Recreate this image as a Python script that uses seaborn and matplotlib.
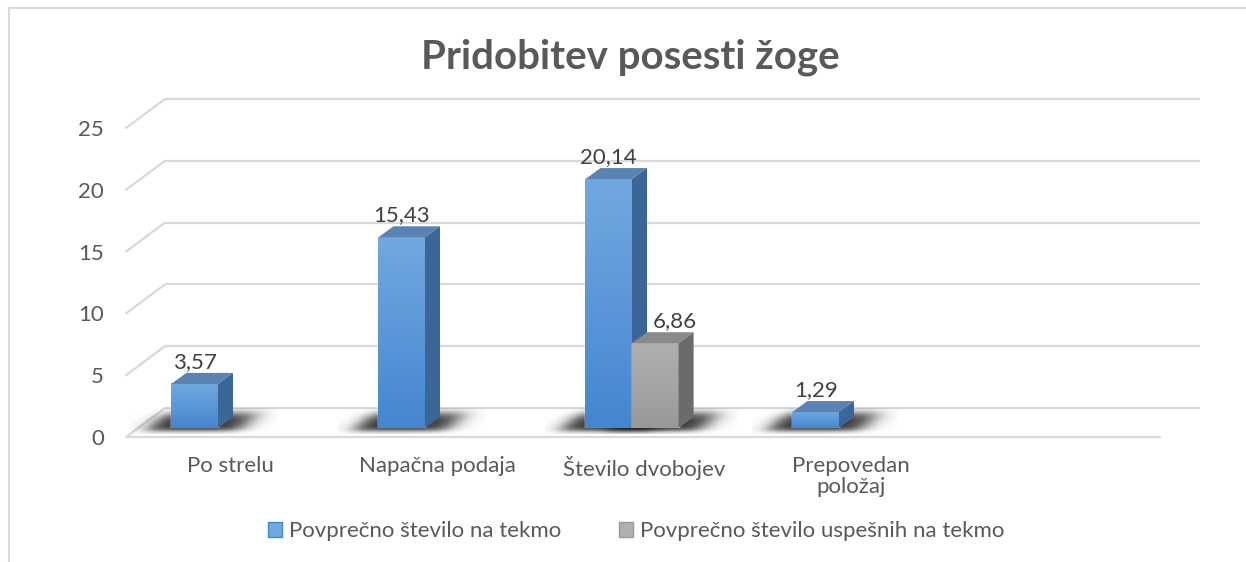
import matplotlib
matplotlib.use("Agg")

import numpy as np
import pandas as pd
import matplotlib.pyplot as plt
import seaborn as sns
from matplotlib.patches import Polygon, Patch
from matplotlib.lines import Line2D
from matplotlib.colors import LinearSegmentedColormap
from matplotlib.transforms import ScaledTranslation

# ===============================
# podatki
# ===============================
kategorije = ["Po strelu", "Napačna podaja", "Število dvobojev", "Prepovedan\npoložaj", ""]
povprecno = [3.57, 15.43, 20.14, 1.29, 0]
uspesni = [0, 0, 6.86, 0, 0]
serije = ["Povprečno število na tekmo", "Povprečno število uspešnih na tekmo"]
y_ticks = [0, 5, 10, 15, 20, 25]

df = pd.DataFrame({
    "kategorija": kategorije * 2,
    "serija": [serije[0]] * len(kategorije) + [serije[1]] * len(kategorije),
    "vrednost": povprecno + uspesni,
})

# ===============================
# slog
# ===============================
sns.set_theme(style="white")
plt.rcParams["font.family"] = ["Lato", "DejaVu Sans"]

txt = "#595959"
grid = "#d9d9d9"
# barve: (spodaj, zgoraj, vrh, stranica)
barve = [
    ("#4586d0", "#72a8e0", "#5a82b3", "#3a6797"),
    ("#999999", "#b0b0b0", "#8a8a8a", "#6b6b6b"),
]

W, H = 1246, 562
fig = plt.figure(figsize=(W / 100, H / 100), dpi=100)
ax = fig.add_axes([114.5 / W, 134 / H, 1035 / W, 309 / H])

sns.barplot(
    data=df, x="kategorija", y="vrednost", hue="serija",
    order=kategorije, hue_order=serije,
    palette=[b[0] for b in barve], saturation=1,
    width=0.45, errorbar=None, legend=False, ax=ax,
)

ax.set_xlim(-0.5, 4.5)
ax.set_ylim(0, 25)
ux = 1035 / 5      # px na kategorijo
uy = 309 / 25      # px na enoto

# ===============================
# 3D okvir: tla in zadnja stena
# ===============================
fx, fy = 11.5 / ux, -9 / uy     # sprednja ravnina
bx, by = 50.5 / ux, 20 / uy     # zadnja ravnina
for v in y_ticks:
    ax.plot([-0.5 + bx, 4.5 + bx], [v + by, v + by], color=grid, lw=1.6,
            clip_on=False, zorder=0, solid_capstyle="butt")
    ax.plot([-0.5 + fx, -0.5 + bx], [v + fy, v + by], color=grid, lw=1.6,
            clip_on=False, zorder=0)
ax.plot([-0.5 + fx, 4.5 + fx], [fy, fy], color=grid, lw=1.6,
        clip_on=False, zorder=0, solid_capstyle="butt")

# ===============================
# 3D stolpci
# ===============================
dx, dy = 15 / ux, 11 / uy
lab_off = [0, 20]
grad = np.linspace(0, 1, 64).reshape(-1, 1)


def sig(t):
    return 1 / (1 + np.exp(-t))


for i, cont in enumerate(ax.containers):
    spodaj, zgoraj, vrh, stran = barve[i]
    cmap = LinearSegmentedColormap.from_list("g%d" % i, [spodaj, zgoraj])
    z = 3 + i
    for bar in cont:
        h = bar.get_height()
        x0, w = bar.get_x(), bar.get_width()
        if not h > 0:
            continue
        bar.set_zorder(z)

        # mehka senca na tleh (v px okoli dna stolpca)
        wp = w * ux
        gx = np.linspace(-40, wp + 60, 160)
        gy = np.linspace(-6, 20, 40)
        X, Y = np.meshgrid(gx, gy)
        U = X - Y * 1.05
        a = sig((U + 22) / 6) * sig((wp + 24 - U) / 7) * sig((Y + 3) / 1.5) * sig((15 - Y) / 2.5)
        rgba = np.zeros(a.shape + (4,))
        rgba[..., 3] = 0.8 * a
        ax.imshow(rgba, extent=[x0 + gx[0] / ux, x0 + gx[-1] / ux, gy[0] / uy, gy[-1] / uy],
                  origin="lower", aspect="auto", interpolation="bilinear",
                  zorder=1, clip_on=False)

        ax.imshow(grad, extent=[x0, x0 + w, 0, h], origin="lower", cmap=cmap,
                  aspect="auto", interpolation="bilinear", zorder=z + 0.1)
        ax.add_patch(Polygon([(x0, h), (x0 + w, h), (x0 + w + dx, h + dy), (x0 + dx, h + dy)],
                             closed=True, facecolor=vrh, edgecolor="none",
                             zorder=z + 0.2, clip_on=False))
        ax.add_patch(Polygon([(x0 + w, 0), (x0 + w + dx, dy), (x0 + w + dx, h + dy), (x0 + w, h)],
                             closed=True, facecolor=stran, edgecolor="none",
                             zorder=z + 0.2, clip_on=False))

        ax.text(x0 + w / 2 + lab_off[i] / ux, h + (dy + 5 / uy),
                f"{h:.2f}".replace(".", ","), ha="center", va="baseline",
                fontsize=16, color="#404040", zorder=10, clip_on=False)

ax.set_xlim(-0.5, 4.5)
ax.set_ylim(0, 25)

# ===============================
# osi
# ===============================
for sp in ax.spines.values():
    sp.set_visible(False)
ax.grid(False)
ax.set_xlabel("")
ax.set_ylabel("")
ax.set_yticks(y_ticks)
ax.set_yticklabels([str(v) for v in y_ticks])
ax.set_xticks(range(len(kategorije)))
ax.set_xticklabels(kategorije)
ax.tick_params(axis="y", length=0, pad=7.5, labelsize=16, labelcolor=txt)
ax.tick_params(axis="x", length=0, pad=20, labelsize=16, labelcolor=txt)
for lbl in ax.get_yticklabels():
    lbl.set_transform(lbl.get_transform() + ScaledTranslation(0, -9 / 100, fig.dpi_scale_trans))
for lbl in ax.get_xticklabels():
    lbl.set_transform(lbl.get_transform() + ScaledTranslation(12 / 100, 0, fig.dpi_scale_trans))
    lbl.set_linespacing(1.05)

# ===============================
# naslov, legenda, okvir
# ===============================
fig.text(630 / W, 1 - 57 / H, "Pridobitev posesti žoge", ha="center", va="center",
         fontsize=29, fontweight="bold", color=txt)

handles = [Patch(facecolor=barve[0][1], edgecolor=barve[0][0]),
           Patch(facecolor=barve[1][1], edgecolor=barve[1][0])]
fig.legend(handles, serije, loc="center", bbox_to_anchor=(636 / W, 1 - 531 / H),
           ncol=2, frameon=False, fontsize=16, labelcolor=txt,
           handlelength=0.65, handleheight=0.65, handletextpad=0.3, columnspacing=2.6)

fig.add_artist(Line2D([9 / W, 1], [1 - 8 / H, 1 - 8 / H], color=grid, lw=1.5))
fig.add_artist(Line2D([9 / W, 9 / W], [0, 1 - 8 / H], color=grid, lw=1.5))

fig.savefig("out.png", dpi=100)
plt.close(fig)
